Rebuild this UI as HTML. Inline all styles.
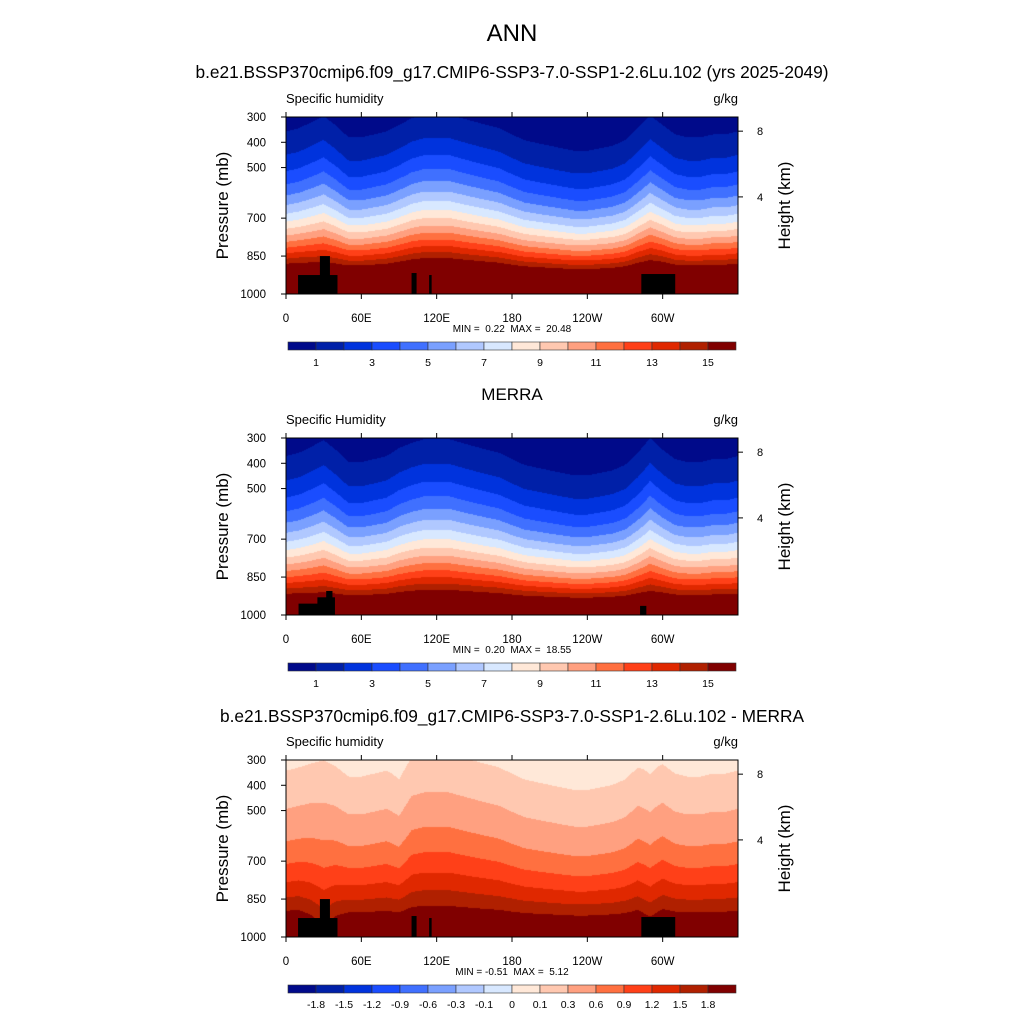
<!DOCTYPE html>
<html><head><meta charset="utf-8">
<style>
body{margin:0;background:#fff;}
#wrap{position:relative;width:1024px;height:1024px;font-family:"Liberation Sans",sans-serif;color:#000;}
.t{position:absolute;white-space:nowrap;}
canvas{position:absolute;}
</style></head>
<body>
<div id="wrap">
<div class="t" style="left:0;width:1024px;text-align:center;top:20px;font-size:24px">ANN</div>
<div class="t" style="left:0;width:1024px;text-align:center;top:62px;font-size:17.3px">b.e21.BSSP370cmip6.f09_g17.CMIP6-SSP3-7.0-SSP1-2.6Lu.102 (yrs 2025-2049)</div>
<div class="t" style="left:0;width:1024px;text-align:center;top:385px;font-size:17px">MERRA</div>
<div class="t" style="left:0;width:1024px;text-align:center;top:706px;font-size:17.3px">b.e21.BSSP370cmip6.f09_g17.CMIP6-SSP3-7.0-SSP1-2.6Lu.102 - MERRA</div>
<svg id="svg" width="1024" height="1024" style="position:absolute;left:0;top:0"></svg>
</div>
<script>
// ---- data ----
const lons = [0,10,20,30,40,50,60,70,80,90,100,110,120,130,140,150,160,170,180,190,200,210,220,230,240,250,260,270,280,290,300,310,320,330,340,350,360];
const nModel = [3.0,2.9,2.7,2.5,2.8,3.2,3.2,3.1,3.0,2.8,2.6,2.5,2.5,2.5,2.6,2.7,2.8,2.9,3.1,3.3,3.4,3.5,3.6,3.7,3.7,3.6,3.5,3.3,2.9,2.5,2.8,3.1,3.2,3.2,3.1,3.1,3.0];
const nMerra = [3.0,2.9,2.7,2.5,2.8,3.2,3.2,3.1,3.0,2.75,2.6,2.5,2.5,2.5,2.6,2.7,2.8,2.9,3.1,3.3,3.4,3.5,3.6,3.7,3.7,3.6,3.5,3.3,2.9,2.45,2.8,3.1,3.2,3.2,3.1,3.1,3.0];
const qsModel = [22,22,21.5,21,21.5,22,22,22,22,22,22,22,22,22,22,22,22,22,22,22,22,22,22,22,22,22,22,22,22,21.5,22,22,22,22,22,22,22];
const qsMerra = [19.5,19.5,19.2,19,19.2,19.5,19.5,19.5,19.5,19.5,19.5,19.5,19.5,19.5,19.5,19.5,19.5,19.5,19.5,19.5,19.5,19.5,19.5,19.5,19.5,19.5,19.5,19.5,19.5,19.2,19.5,19.5,19.5,19.5,19.5,19.5,19.5];
const levelsQ = [1,2,3,4,5,6,7,8,9,10,11,12,13,14,15];
const levelsD = [-1.8,-1.5,-1.2,-0.9,-0.6,-0.3,-0.1,0,0.1,0.3,0.6,0.9,1.2,1.5,1.8];
const labelsQ = ["1","3","5","7","9","11","13","15"];
const labelsD = ["-1.8","-1.5","-1.2","-0.9","-0.6","-0.3","-0.1","0","0.1","0.3","0.6","0.9","1.2","1.5","1.8"];
const pTicks = [300,400,500,700,850,1000];
const lonTicks = [0,60,120,180,240,300];
const lonLabels = ["0","60E","120E","180","120W","60W"];
const landModel = [[9.6,41,925],[27,35,850],[100,104,917],[114,116,925],[283,310,921]];
const landMerra = [[10,30,955],[25,39,930],[32,37,905],[282,287,964]];
const colors = ["#000a8a","#0020a8","#0033dd","#1a4dff","#4070ff","#7aa0ff","#b0c8ff","#d8e8ff","#ffe8d8","#ffc8b0","#ffa080","#ff7040","#ff4018","#e02800","#b02000","#800000"];

// ---- geometry ----
const X0=286,X1=738,PH=177;
const panelTops=[117,438,760];
const xOf = lon => X0 + (lon/360)*(X1-X0);
const yOf = (p,top) => top + (p-300)/700*PH;
function interp(arr,lon){const i=Math.min(35,Math.floor(lon/10));const f=(lon-lons[i])/10;return arr[i]*(1-f)+arr[i+1]*f;}
function qModel(lon,p){return interp(qsModel,lon)*Math.pow(p/1000,interp(nModel,lon));}
function qMerra(lon,p){return interp(qsMerra,lon)*Math.pow(p/1000,interp(nMerra,lon));}
function bin(v,lv){let k=0;while(k<lv.length&&v>=lv[k])k++;return k;}
function hex(c){return [parseInt(c.substr(1,2),16),parseInt(c.substr(3,2),16),parseInt(c.substr(5,2),16)];}
const rgb=colors.map(hex);
const wrap=document.getElementById('wrap');
const svg=document.getElementById('svg');
const NS="http://www.w3.org/2000/svg";
function mk(tag,attrs,parent){const e=document.createElementNS(NS,tag);for(const k in attrs)e.setAttribute(k,attrs[k]);(parent||svg).appendChild(e);return e;}
function txt(x,y,s,size,anchor,name,rot){const e=mk('text',{x:x,y:y,'font-size':size,'text-anchor':anchor||'start','font-family':'Liberation Sans, sans-serif'});e.textContent=s;e.style.whiteSpace='pre';if(rot)e.setAttribute('transform',`rotate(-90 ${x} ${y})`);


return e;}

function drawPanel(idx,fn,levels,land,sub,minmax,cbLabels){
  const top=panelTops[idx];
  const cv=document.createElement('canvas');cv.width=X1-X0;cv.height=PH;
  cv.style.left=X0+'px';cv.style.top=top+'px';
  
  
  wrap.insertBefore(cv,svg);
  const ctx=cv.getContext('2d');const im=ctx.createImageData(cv.width,PH);
  for(let j=0;j<PH;j++){const p=300+(j+0.5)/PH*700;
    for(let i=0;i<cv.width;i++){const lon=(i+0.5)/cv.width*360;const c=rgb[bin(fn(lon,p),levels)];const o=(j*cv.width+i)*4;im.data[o]=c[0];im.data[o+1]=c[1];im.data[o+2]=c[2];im.data[o+3]=255;}}
  ctx.putImageData(im,0,0);
  const g=mk('g',{});
  
  
  land.forEach(l=>{const r=mk('rect',{x:xOf(l[0]),y:yOf(l[2],top),width:xOf(l[1])-xOf(l[0]),height:yOf(1000,top)-yOf(l[2],top),fill:'#000'},g);
    
    });
  const fr=mk('rect',{x:X0,y:top,width:X1-X0,height:PH,fill:'none',stroke:'#000','stroke-width':1},g);
  
  
  pTicks.forEach(p=>{const y=yOf(p,top);mk('line',{x1:X0-5,x2:X0,y1:y,y2:y,stroke:'#000'},g);txt(266,y+4,String(p),11.5,'end','y-tick-label');});
  lonTicks.forEach((l,k)=>{const x=xOf(l);mk('line',{x1:x,x2:x,y1:top+PH,y2:top+PH+5,stroke:'#000'},g);mk('line',{x1:x,x2:x,y1:top,y2:top-5,stroke:'#000'},g);txt(x,top+PH+28,lonLabels[k],11.5,'middle','x-tick-label');});
  [[8,356],[4,616]].forEach(h=>{const y=yOf(h[1],top);mk('line',{x1:X1,x2:X1+5,y1:y,y2:y,stroke:'#000'},g);txt(757,y+4,String(h[0]),11,'start','height-tick-label');});
  txt(228,top+PH/2,'Pressure (mb)',17,'middle','y-axis-title',true);
  txt(790,top+PH/2,'Height (km)',17,'middle','right-axis-title',true);
  txt(X0,top-14,sub,13,'start','variable-label');
  txt(X1,top-14,'g/kg',13,'end','units-label');
  txt(512,top+PH+38,minmax,10,'middle','min-max-label');
  const cy=top+225,cw=(736-288)/16;
  colors.forEach((c,k)=>{const r=mk('rect',{x:288+k*cw,y:cy,width:cw,height:8,fill:c,stroke:'#333','stroke-width':0.6},g);
    
    });
  if(cbLabels.length===8){cbLabels.forEach((s,k)=>txt(288+(2*k+1)*cw,cy+24,s,10.5,'middle','colorbar-label'));}
  else{cbLabels.forEach((s,k)=>txt(288+(k+1)*cw,cy+23,s,10.5,'middle','colorbar-label'));}
}
drawPanel(0,qModel,levelsQ,landModel,'Specific humidity','MIN =  0.22  MAX =  20.48',labelsQ);
drawPanel(1,qMerra,levelsQ,landMerra,'Specific Humidity','MIN =  0.20  MAX =  18.55',labelsQ);
drawPanel(2,(l,p)=>qModel(l,p)-qMerra(l,p),levelsD,landModel,'Specific humidity','MIN = -0.51  MAX =  5.12',labelsD);
</script>
</body></html>
